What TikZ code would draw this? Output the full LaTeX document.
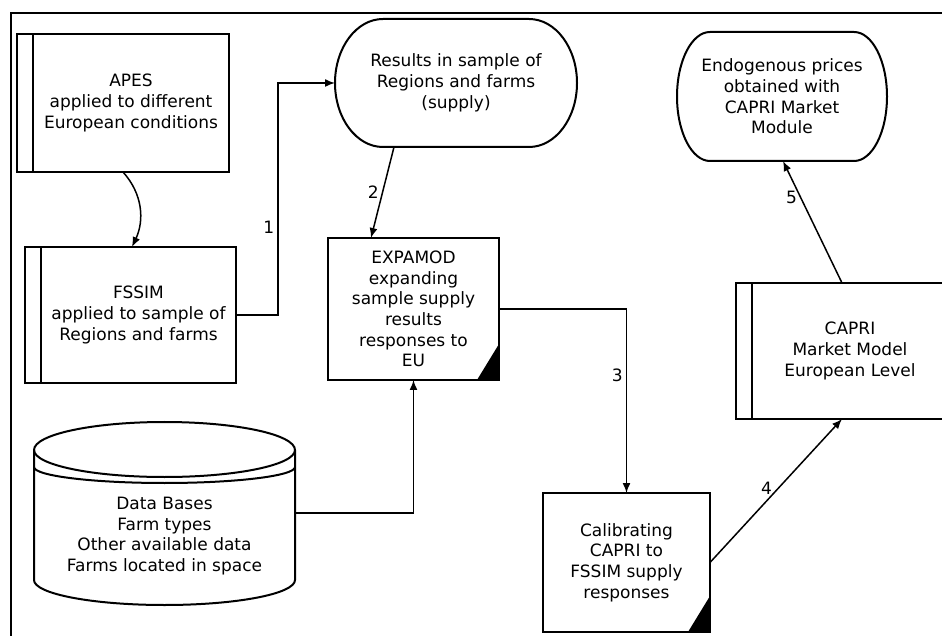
\documentclass[tikz,border=0pt]{standalone}
\usepackage{fontspec}
\setmainfont{DejaVu Sans}
\usetikzlibrary{arrows.meta}
\def\procnode#1{\node[draw,line width=2pt,align=center,inner sep=0pt,outer sep=0pt,#1]}
\def\textnode#1{\node[align=center,inner sep=0pt,outer sep=0pt,#1]}
\def\strip#1{\draw[line width=2pt] (#1.north west) -- ++(-16,0) |- (#1.south west);}
\def\fold#1{\fill (#1.south east) -- ++(-22,0) -- ++(22,36) -- cycle;}
\def\terminal#1#2#3{\draw[line width=2pt] ([xshift=#2pt]#1.north west) -- ([xshift=-#2pt]#1.north east)
  arc[start angle=90,end angle=-90,x radius=#2pt,y radius=#3pt] -- ([xshift=#2pt]#1.south west)
  arc[start angle=270,end angle=90,x radius=#2pt,y radius=#3pt] -- cycle;}

\begin{document}
\begin{tikzpicture}[x=1pt,y=1pt,font=\fontsize{17}{20.7}\selectfont,
  flow/.style={line width=1.5pt,-{Latex[length=10pt,width=8pt]}},
  lbl/.style={inner sep=3pt}]
\useasboundingbox (0,0) rectangle (942,635);
\draw[line width=2.4pt] (11,-10) -- (11,622) -- (960,622);
\procnode{minimum width=196pt,minimum height=138pt} (apes) at (131,532) {APES\\applied to different\\European conditions};
\procnode{minimum width=195pt,minimum height=136pt} (fssim) at (138.5,320) {FSSIM\\applied to sample of\\Regions and farms};
\procnode{minimum width=171pt,minimum height=142pt} (expamod) at (413.5,326) {EXPAMOD\\expanding\\sample supply\\results\\responses to\\EU};
\procnode{minimum width=167pt,minimum height=139pt} (calib) at (626.5,72.5) {Calibrating\\CAPRI to\\FSSIM supply\\responses};
\procnode{minimum width=196pt,minimum height=136pt} (capri) at (850,284) {CAPRI\\Market Model\\European Level};
\textnode{minimum width=242pt,minimum height=128pt} (res) at (456,552) {Results in sample of\\Regions and farms\\(supply)};
\textnode{minimum width=210pt,minimum height=129pt} (endo) at (782,538.5) {Endogenous prices\\obtained with\\CAPRI Market\\Module};
\textnode{minimum width=261pt,minimum height=138pt} (db) at (164.5,99) {Data Bases\\Farm types\\Other available data\\Farms located in space};
\strip{apes}
\strip{fssim}
\strip{capri}
\fold{expamod}
\fold{calib}
\terminal{res}{48}{64}
\terminal{endo}{33}{64.5}
\draw[line width=2pt] ([yshift=17pt]db.north west) arc[start angle=180,end angle=0,x radius=130.5pt,y radius=28pt]
  -- ([yshift=25pt]db.south east) arc[start angle=0,end angle=-180,x radius=130.5pt,y radius=25pt] -- cycle;
\draw[line width=2pt] ([yshift=17pt]db.north west) arc[start angle=180,end angle=360,x radius=130.5pt,y radius=27pt];
\draw[line width=2pt] (db.north west) arc[start angle=180,end angle=360,x radius=130.5pt,y radius=16pt];
\draw[flow] ([xshift=-8pt]apes.south) to[out=-48,in=65] ([xshift=-6.5pt]fssim.north);
\draw[flow] (fssim.east) -- ++(42,0) |- node[lbl,left,pos=0.19] {1} (res.west);
\draw[flow] ([xshift=-62pt]res.south) -- node[lbl,left] {2} ([xshift=-42.5pt]expamod.north);
\draw[flow] (expamod.east) -| node[lbl,left,pos=0.68] {3} (calib.north);
\draw[flow] (calib.east) -- node[lbl,left=3pt,pos=0.52] {4} ([xshift=-8pt]capri.south);
\draw[flow] ([xshift=-8pt]capri.north) -- node[lbl,left,pos=0.7] {5} ([xshift=1pt]endo.south);
\draw[flow] ([yshift=23pt]db.east) -| (expamod.south);
\end{tikzpicture}
\end{document}
